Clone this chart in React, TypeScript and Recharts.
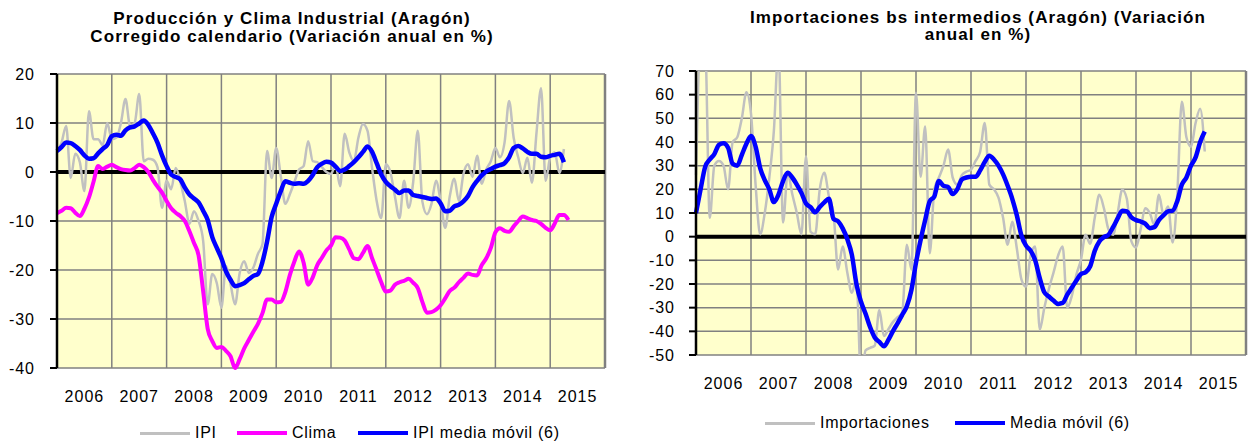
import { LineChart, Line, XAxis, YAxis, CartesianGrid, ReferenceLine } from "recharts"

const FONT = '"Liberation Sans", Arial, sans-serif'

// months from Jan 2006, year labels centred in each year band
const years = ["2006", "2007", "2008", "2009", "2010", "2011", "2012", "2013", "2014", "2015"]

const ipi = [
  4.0, 6.0, 9.4, -1.2, 3.7, 2.0, -3.9, 12.4, 6.7, 6.7,
  5.5, 10.0, 6.7, 7.0, 10.0, 14.9, 9.4, 10.0, 15.9, 2.2,
  2.7, 2.5, 1.0, -7.3, -1.8, -3.5, 0.8, -2.0, -6.0, -10.6,
  -8.0, -10.0, -14.0, -27.0, -20.8, -22.7, -27.7, -19.2, -22.9, -27.0,
  -20.6, -18.2, -20.6, -19.5, -16.7, -14.7, 4.3, -1.2, 4.9, -0.8,
  -6.5, -4.5, -2.0, 0.5, 1.2, 6.3, 2.2, 2.0, 1.0, 0.0,
  -0.4, 1.5, -2.9, 7.8, 4.0, 2.2, 7.0, 9.8, 8.4, 0.8,
  -5.9, -9.4, 1.6, 0.0, -5.0, -9.4, -1.8, -7.3, -2.0, 8.4,
  -6.0, -8.6, -6.5, -1.8, -5.9, -11.4, -5.0, -1.4, -5.9, -0.4,
  1.6, -1.0, 3.3, -2.4, 0.5, 2.2, 4.9, 3.0, 6.0, 14.5,
  7.0, 3.0, -0.2, 2.9, -2.2, 8.0, 17.1, -1.8, 3.0, 4.0,
  -0.2, 4.7,
]

const clima = [
  -8.4, -7.9, -7.3, -7.4, -8.3, -9.0, -7.5, -5.2, -2.0, 1.2,
  0.6, 1.1, 1.5, 1.0, 0.6, 0.4, 0.3, 0.8, 1.5, 1.0,
  0.0, -1.6, -3.0, -4.2, -5.9, -7.4, -8.3, -9.0, -10.0, -12.1,
  -14.5, -17.0, -24.3, -32.0, -34.5, -35.9, -35.7, -36.5, -37.6, -40.0,
  -38.2, -36.0, -34.3, -32.6, -31.0, -28.8, -26.0, -26.0, -26.6, -26.5,
  -24.5, -21.0, -18.2, -16.2, -18.5, -23.0, -21.5, -19.0, -17.5, -16.0,
  -15.0, -13.3, -13.4, -14.0, -15.8, -17.6, -17.8, -16.5, -15.1, -17.6,
  -20.0, -22.5, -24.4, -24.2, -23.0, -22.5, -22.2, -21.8, -22.6, -23.7,
  -26.5, -28.7, -28.6, -28.1, -27.2, -25.8, -24.3, -23.6, -22.5, -21.6,
  -20.7, -21.0, -21.1, -19.0, -17.6, -15.5, -12.3, -11.5, -12.0, -12.2,
  -11.1, -10.0, -9.1, -9.4, -9.8, -10.0, -10.6, -11.4, -11.9, -10.5,
  -8.8, -8.8, -9.8,
]

const ipiMedia = [
  4.3, 5.1, 6.0, 5.9, 5.3, 4.5, 3.4, 2.7, 2.8, 3.8,
  4.7, 5.5, 7.3, 7.6, 7.4, 8.5, 9.1, 9.3, 9.9, 10.5,
  9.6, 7.9, 6.0, 3.4, 1.2, -0.5, -1.0, -1.5, -3.2, -4.6,
  -5.4, -6.2, -7.9, -9.8, -13.3, -15.5, -17.6, -20.3, -22.0, -23.3,
  -23.1, -22.7, -21.9, -21.2, -20.8, -18.3, -14.2, -9.2, -6.5, -3.9,
  -1.9, -2.2, -2.4, -2.3, -2.4, -1.8, -0.6, 1.0, 1.7, 2.1,
  1.9, 1.1, 0.2, 0.5, 1.2, 2.0, 3.0, 4.1, 5.2, 4.1,
  1.8, -0.5, -2.0, -2.9, -3.6, -4.3, -3.8, -3.8, -4.7, -4.9,
  -5.1, -5.3, -5.5, -5.4, -6.4, -8.0, -7.9, -7.0, -6.7, -6.0,
  -4.9, -3.1, -1.8, -0.7, 0.1, 0.6, 1.1, 1.4, 1.8, 3.0,
  4.9, 5.3, 4.8, 4.1, 3.7, 3.7, 3.1, 3.0, 3.3, 3.5,
  3.7, 2.0,
]

const importaciones = [
  26, 80, 80, 8, 30, 32, 30, 20, 40, 42,
  50, 61, 52, 22, 1, 10, 25, 45, 80, 6,
  27, 18, 10, 1, 34, 2, 1, 20, 27, 17,
  10, -13.9, -4.2, -15, -23.7, -18, -60, -48, -47, -46,
  -31, -42, -39, -36, -34, -32, -3.4, -13.9, 60.8, 25.3,
  46.5, -7, 20, 25, 30, 36.8, 25, 22, 26, 27.5,
  28.3, 32, 35.9, 48, 22, 20, 16.5, 8, -3.4, 6.3,
  -5, -18, -21.1, -8, -4.2, -39.3, -30, -22, -15.2, -8,
  -4.2, -30, -25, -16, -9.7, 0.8, -3, 8, 17.7, 12,
  3, 0.8, 10, 19.8, 16, -2, -4.6, 3, 12, 10,
  5, 17.7, 9.3, 12.7, -2.5, 17.7, 57, 42, 38, 48,
  54, 36,
]

const mediaMovil = [
  10, 20, 29.5, 32.6, 34.9, 38.8, 39.5, 37.6, 30.8, 30.0,
  34.6, 39.3, 42.5, 38.1, 29.0, 23.9, 20.0, 14.6, 17.8, 23.5,
  27.0, 25.0, 22.0, 18.5, 14.0, 12.5, 10.3, 12.5, 14.5, 16.0,
  7.5, 6.5, 3.5, -1.0, -7.6, -20.0, -27.5, -32.6, -38.3, -42.6,
  -44.5, -46.3, -43.5, -39.8, -36.5, -33.0, -29.4, -22.5, -11.0, -1.5,
  7.0, 15.0, 17.0, 23.5, 21.5, 21.0, 18.0, 20.0, 24.2, 25.0,
  25.3, 25.3, 28.0, 31.6, 34.2, 32.6, 30.0, 26.3, 21.5, 16.0,
  9.0, 0.5, -3.8, -5.9, -10.0, -17.5, -23.5, -25.3, -27.0, -28.4,
  -28.0, -24.5, -21.5, -18.5, -15.8, -15.0, -12.5, -6.0, -2.0, -0.2,
  0.8, 4.0, 7.7, 11.0, 10.7, 8.2, 7.0, 6.4, 5.5, 3.6,
  4.0, 7.0, 9.0, 10.7, 11.0, 15.0, 22.0, 25.0, 30.0, 33.5,
  40.0, 44.4,
]

const leftTicks = [-40, -30, -20, -10, 0, 10, 20]
const rightTicks = [-50, -40, -30, -20, -10, 0, 10, 20, 30, 40, 50, 60, 70]

const yearTicks = years.map((_, i) => i * 12 + 6)
const yearEdges = [...years.map((_, i) => i * 12), years.length * 12]

const leftData = clima.map((c, i) => ({ m: i, ipi: ipi[i], clima: c, media: ipiMedia[i] }))
const rightData = importaciones.map((v, i) => ({ m: i, imp: v, media: mediaMovil[i] }))

const tickStyle = { fill: "#000", fontSize: 16, fontFamily: FONT, letterSpacing: 1 }
const yearLabel = (v: number) => years[Math.round((v - 6) / 12)]

function LegendItem({ x, y, color, width, label }: { x: number; y: number; color: string; width: number; label: string }) {
  return (
    <div style={{ position: "absolute", left: x, top: y - 10, height: 20, display: "flex", alignItems: "center" }}>
      <span style={{ display: "inline-block", width: 50, height: width, background: color, marginRight: 5 }} />
      <span style={{ fontSize: 16, letterSpacing: 0.7, color: "#000" }}>{label}</span>
    </div>
  )
}

const titleStyle = {
  position: "absolute" as const,
  fontWeight: "bold" as const,
  fontSize: 17,
  letterSpacing: 1.1,
  textAlign: "center" as const,
  color: "#000",
}

export default function App() {
  return (
    <div style={{ position: "absolute", left: 0, top: 0, width: 1248, height: 443, background: "#fff", fontFamily: FONT }}>
      <div style={{ ...titleStyle, left: 0, width: 584, top: 10, lineHeight: "18px" }}>
        Producción y Clima Industrial (Aragón)
        <br />
        Corregido calendario (Variación anual en %)
      </div>
      <div style={{ ...titleStyle, left: 708, width: 540, top: 9, lineHeight: "17px" }}>
        Importaciones bs intermedios (Aragón) (Variación
        <br />
        anual en %)
      </div>

      <div style={{ position: "absolute", left: 0, top: 0 }}>
        <LineChart width={620} height={443} data={leftData} margin={{ top: 74, right: 15, bottom: 35, left: 7 }}>
          <CartesianGrid vertical={false} stroke="#808080" strokeWidth={1.5} fill="#FFFFCC" fillOpacity={1} />
          {yearEdges.map((x) => (
            <ReferenceLine key={x} x={x} stroke="#808080" strokeWidth={x === 120 ? 2.5 : 1.5} />
          ))}
          <ReferenceLine y={0} stroke="#000" strokeWidth={4} />
          <XAxis
            dataKey="m"
            type="number"
            domain={[0, 120]}
            ticks={yearTicks}
            interval={0}
            tickFormatter={yearLabel}
            axisLine={false}
            tickLine={false}
            tickMargin={17}
            height={40}
            tick={tickStyle}
          />
          <YAxis
            domain={[-40, 20]}
            ticks={leftTicks}
            interval={0}
            width={50}
            axisLine={{ stroke: "#000", strokeWidth: 2.5 }}
            tickLine={{ stroke: "#000", strokeWidth: 2 }}
            tickSize={7}
            tickMargin={15}
            tick={tickStyle}
          />
          <Line type="monotone" dataKey="ipi" stroke="#C0C0C0" strokeWidth={2.5} dot={false} isAnimationActive={false} />
          <Line type="monotone" dataKey="clima" stroke="#FF00FF" strokeWidth={4} dot={false} isAnimationActive={false} />
          <Line type="monotone" dataKey="media" stroke="#0000FF" strokeWidth={4.5} dot={false} isAnimationActive={false} />
        </LineChart>
      </div>

      <div style={{ position: "absolute", left: 623, top: 0 }}>
        <LineChart width={625} height={443} data={rightData} margin={{ top: 71, right: 2, bottom: 48, left: 23 }}>
          <CartesianGrid vertical={false} stroke="#808080" strokeWidth={1.5} fill="#FFFFCC" fillOpacity={1} />
          {yearEdges.map((x) => (
            <ReferenceLine key={x} x={x} stroke="#808080" strokeWidth={x === 120 ? 2.5 : 1.5} />
          ))}
          <ReferenceLine y={0} stroke="#000" strokeWidth={4} />
          <XAxis
            dataKey="m"
            type="number"
            domain={[0, 120]}
            ticks={yearTicks}
            interval={0}
            tickFormatter={yearLabel}
            axisLine={false}
            tickLine={false}
            tickMargin={17}
            height={40}
            tick={tickStyle}
          />
          <YAxis
            domain={[-50, 70]}
            ticks={rightTicks}
            interval={0}
            allowDataOverflow
            width={50}
            axisLine={{ stroke: "#000", strokeWidth: 2.5 }}
            tickLine={{ stroke: "#000", strokeWidth: 2 }}
            tickSize={7}
            tickMargin={14}
            tick={tickStyle}
          />
          <Line type="monotone" dataKey="imp" stroke="#C0C0C0" strokeWidth={2.5} dot={false} isAnimationActive={false} />
          <Line type="monotone" dataKey="media" stroke="#0000FF" strokeWidth={4.5} dot={false} isAnimationActive={false} />
        </LineChart>
      </div>

      <LegendItem x={140} y={433} color="#C0C0C0" width={3} label="IPI" />
      <LegendItem x={237} y={433} color="#FF00FF" width={4} label="Clima" />
      <LegendItem x={358} y={433} color="#0000FF" width={4} label="IPI media móvil (6)" />
      <LegendItem x={765} y={423} color="#C0C0C0" width={3} label="Importaciones" />
      <LegendItem x={955} y={423} color="#0000FF" width={4} label="Media móvil (6)" />
    </div>
  )
}
